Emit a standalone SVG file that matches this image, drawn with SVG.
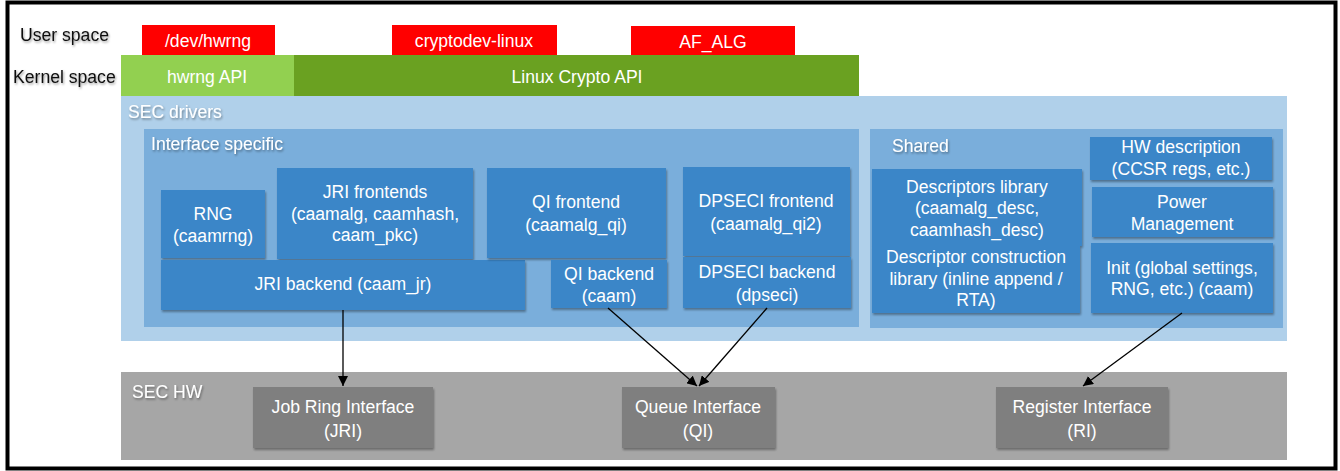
<svg xmlns="http://www.w3.org/2000/svg" width="1340" height="471" viewBox="0 0 1340 471">
<defs>
<filter id="sh" x="-10%" y="-10%" width="130%" height="140%">
<feDropShadow dx="1" dy="2" stdDeviation="1.2" flood-color="#000" flood-opacity="0.35"/>
</filter>
<filter id="tsh" x="-10%" y="-30%" width="130%" height="180%">
<feDropShadow dx="1" dy="1.5" stdDeviation="1" flood-color="#000" flood-opacity="0.4"/>
</filter>
<marker id="ah" viewBox="0 0 10 10" refX="10" refY="5" markerWidth="10" markerHeight="10" markerUnits="userSpaceOnUse" orient="auto">
<path d="M0,0 L10,5 L0,10 z" fill="#000"/>
</marker>
</defs>
<style>
text{font-family:"Liberation Sans",Arial,sans-serif;font-size:17.6px}
.w{fill:#fff}
.c{text-anchor:middle}
.red{fill:#ff0000}
.blue{fill:#3a86c8}
.hw{fill:#7f7f7f}
.lbl{fill:#fff;filter:url(#tsh)}
.hdr{fill:#111;filter:url(#tsh)}
.cn{stroke:#000;stroke-width:1.3;fill:none;marker-end:url(#ah)}
</style>
<rect x="0" y="0" width="1340" height="471" fill="#fff"/>

<g id="labels-space">
<text class="hdr" x="20" y="41">User space</text>
<text class="hdr" x="13" y="83">Kernel space</text>
</g>

<g id="dev-hwrng"><rect class="red" x="142" y="25" width="133" height="30"/><text class="w c" x="208" y="47">/dev/hwrng</text></g>
<g id="cryptodev-linux"><rect class="red" x="392" y="25" width="165" height="30"/><text class="w c" x="474" y="47">cryptodev-linux</text></g>
<g id="af-alg"><rect class="red" x="631" y="26" width="164" height="30"/><text class="w c" x="713" y="48">AF_ALG</text></g>

<g id="hwrng-api"><rect x="121" y="55" width="173" height="42" fill="#92d050"/><text class="w c" x="207" y="83">hwrng API</text></g>
<g id="linux-crypto-api"><rect x="294" y="55" width="565" height="42" fill="#6aa121"/><text class="w c" x="577" y="83">Linux Crypto API</text></g>

<g id="sec-drivers"><rect x="121" y="96" width="1166" height="245" fill="#b0d0ea"/><text class="lbl" x="128" y="118">SEC drivers</text></g>
<g id="interface-specific"><rect x="144" y="129" width="715" height="198" fill="#7aaedb"/><text class="lbl" x="151" y="150">Interface specific</text></g>
<g id="shared"><rect x="870" y="129" width="413" height="199" fill="#7aaedb"/><text class="lbl" x="892" y="152">Shared</text></g>

<g id="rng"><rect class="blue" filter="url(#sh)" x="161" y="190" width="104" height="68"/><text class="w c" x="213" y="220">RNG</text><text class="w c" x="213" y="242">(caamrng)</text></g>
<g id="jri-frontends"><rect class="blue" filter="url(#sh)" x="277" y="168" width="196" height="91"/><text class="w c" x="375" y="198">JRI frontends</text><text class="w c" x="375" y="220">(caamalg, caamhash,</text><text class="w c" x="375" y="241">caam_pkc)</text></g>
<g id="jri-backend"><rect class="blue" filter="url(#sh)" x="161" y="260" width="364" height="50"/><text class="w c" x="343" y="290">JRI backend (caam_jr)</text></g>
<g id="qi-frontend"><rect class="blue" filter="url(#sh)" x="487" y="168" width="179" height="90"/><text class="w c" x="576" y="208">QI frontend</text><text class="w c" x="576" y="231">(caamalg_qi)</text></g>
<g id="qi-backend"><rect class="blue" filter="url(#sh)" x="551" y="260" width="116" height="48"/><text class="w c" x="609" y="280">QI backend</text><text class="w c" x="609" y="302">(caam)</text></g>
<g id="dpseci-frontend"><rect class="blue" filter="url(#sh)" x="683" y="167" width="167" height="89"/><text class="w c" x="766" y="207">DPSECI frontend</text><text class="w c" x="766" y="230">(caamalg_qi2)</text></g>
<g id="dpseci-backend"><rect class="blue" filter="url(#sh)" x="683" y="257" width="168" height="51"/><text class="w c" x="767" y="278">DPSECI backend</text><text class="w c" x="767" y="301">(dpseci)</text></g>

<g id="descriptors-library"><rect class="blue" filter="url(#sh)" x="872" y="169" width="210" height="77"/><text class="w c" x="977" y="193">Descriptors library</text><text class="w c" x="977" y="214">(caamalg_desc,</text><text class="w c" x="977" y="236">caamhash_desc)</text></g>
<g id="descriptor-construction"><rect class="blue" filter="url(#sh)" x="872" y="246" width="208" height="67"/><text class="w c" x="976" y="263">Descriptor construction</text><text class="w c" x="976" y="285">library (inline append /</text><text class="w c" x="976" y="306">RTA)</text></g>
<g id="hw-description"><rect class="blue" filter="url(#sh)" x="1090" y="137" width="182" height="43"/><text class="w c" x="1181" y="153">HW description</text><text class="w c" x="1181" y="175">(CCSR regs, etc.)</text></g>
<g id="power-management"><rect class="blue" filter="url(#sh)" x="1092" y="187" width="181" height="50"/><text class="w c" x="1182" y="208">Power</text><text class="w c" x="1182" y="230">Management</text></g>
<g id="init"><rect class="blue" filter="url(#sh)" x="1091" y="243" width="182" height="70"/><text class="w c" x="1182" y="274">Init (global settings,</text><text class="w c" x="1182" y="295">RNG, etc.) (caam)</text></g>

<g id="sec-hw"><rect x="121" y="372" width="1166" height="88" fill="#a6a6a6"/><text class="lbl" x="132" y="398">SEC HW</text></g>
<g id="jri"><rect class="hw" filter="url(#sh)" x="253" y="387" width="180" height="61"/><text class="w c" x="343" y="413">Job Ring Interface</text><text class="w c" x="343" y="437">(JRI)</text></g>
<g id="qi"><rect class="hw" filter="url(#sh)" x="622" y="387" width="153" height="61"/><text class="w c" x="698" y="413">Queue Interface</text><text class="w c" x="698" y="437">(QI)</text></g>
<g id="ri"><rect class="hw" filter="url(#sh)" x="996" y="387" width="172" height="61"/><text class="w c" x="1082" y="413">Register Interface</text><text class="w c" x="1082" y="437">(RI)</text></g>

<g id="connectors">
<line class="cn" x1="343" y1="310" x2="343" y2="386"/>
<line class="cn" x1="608" y1="308" x2="697" y2="386"/>
<line class="cn" x1="767" y1="308" x2="699" y2="386"/>
<line class="cn" x1="1182" y1="313" x2="1083" y2="386"/>
</g>

<rect x="7.5" y="2.5" width="1328" height="466" fill="none" stroke="#000" stroke-width="4"/>
</svg>
